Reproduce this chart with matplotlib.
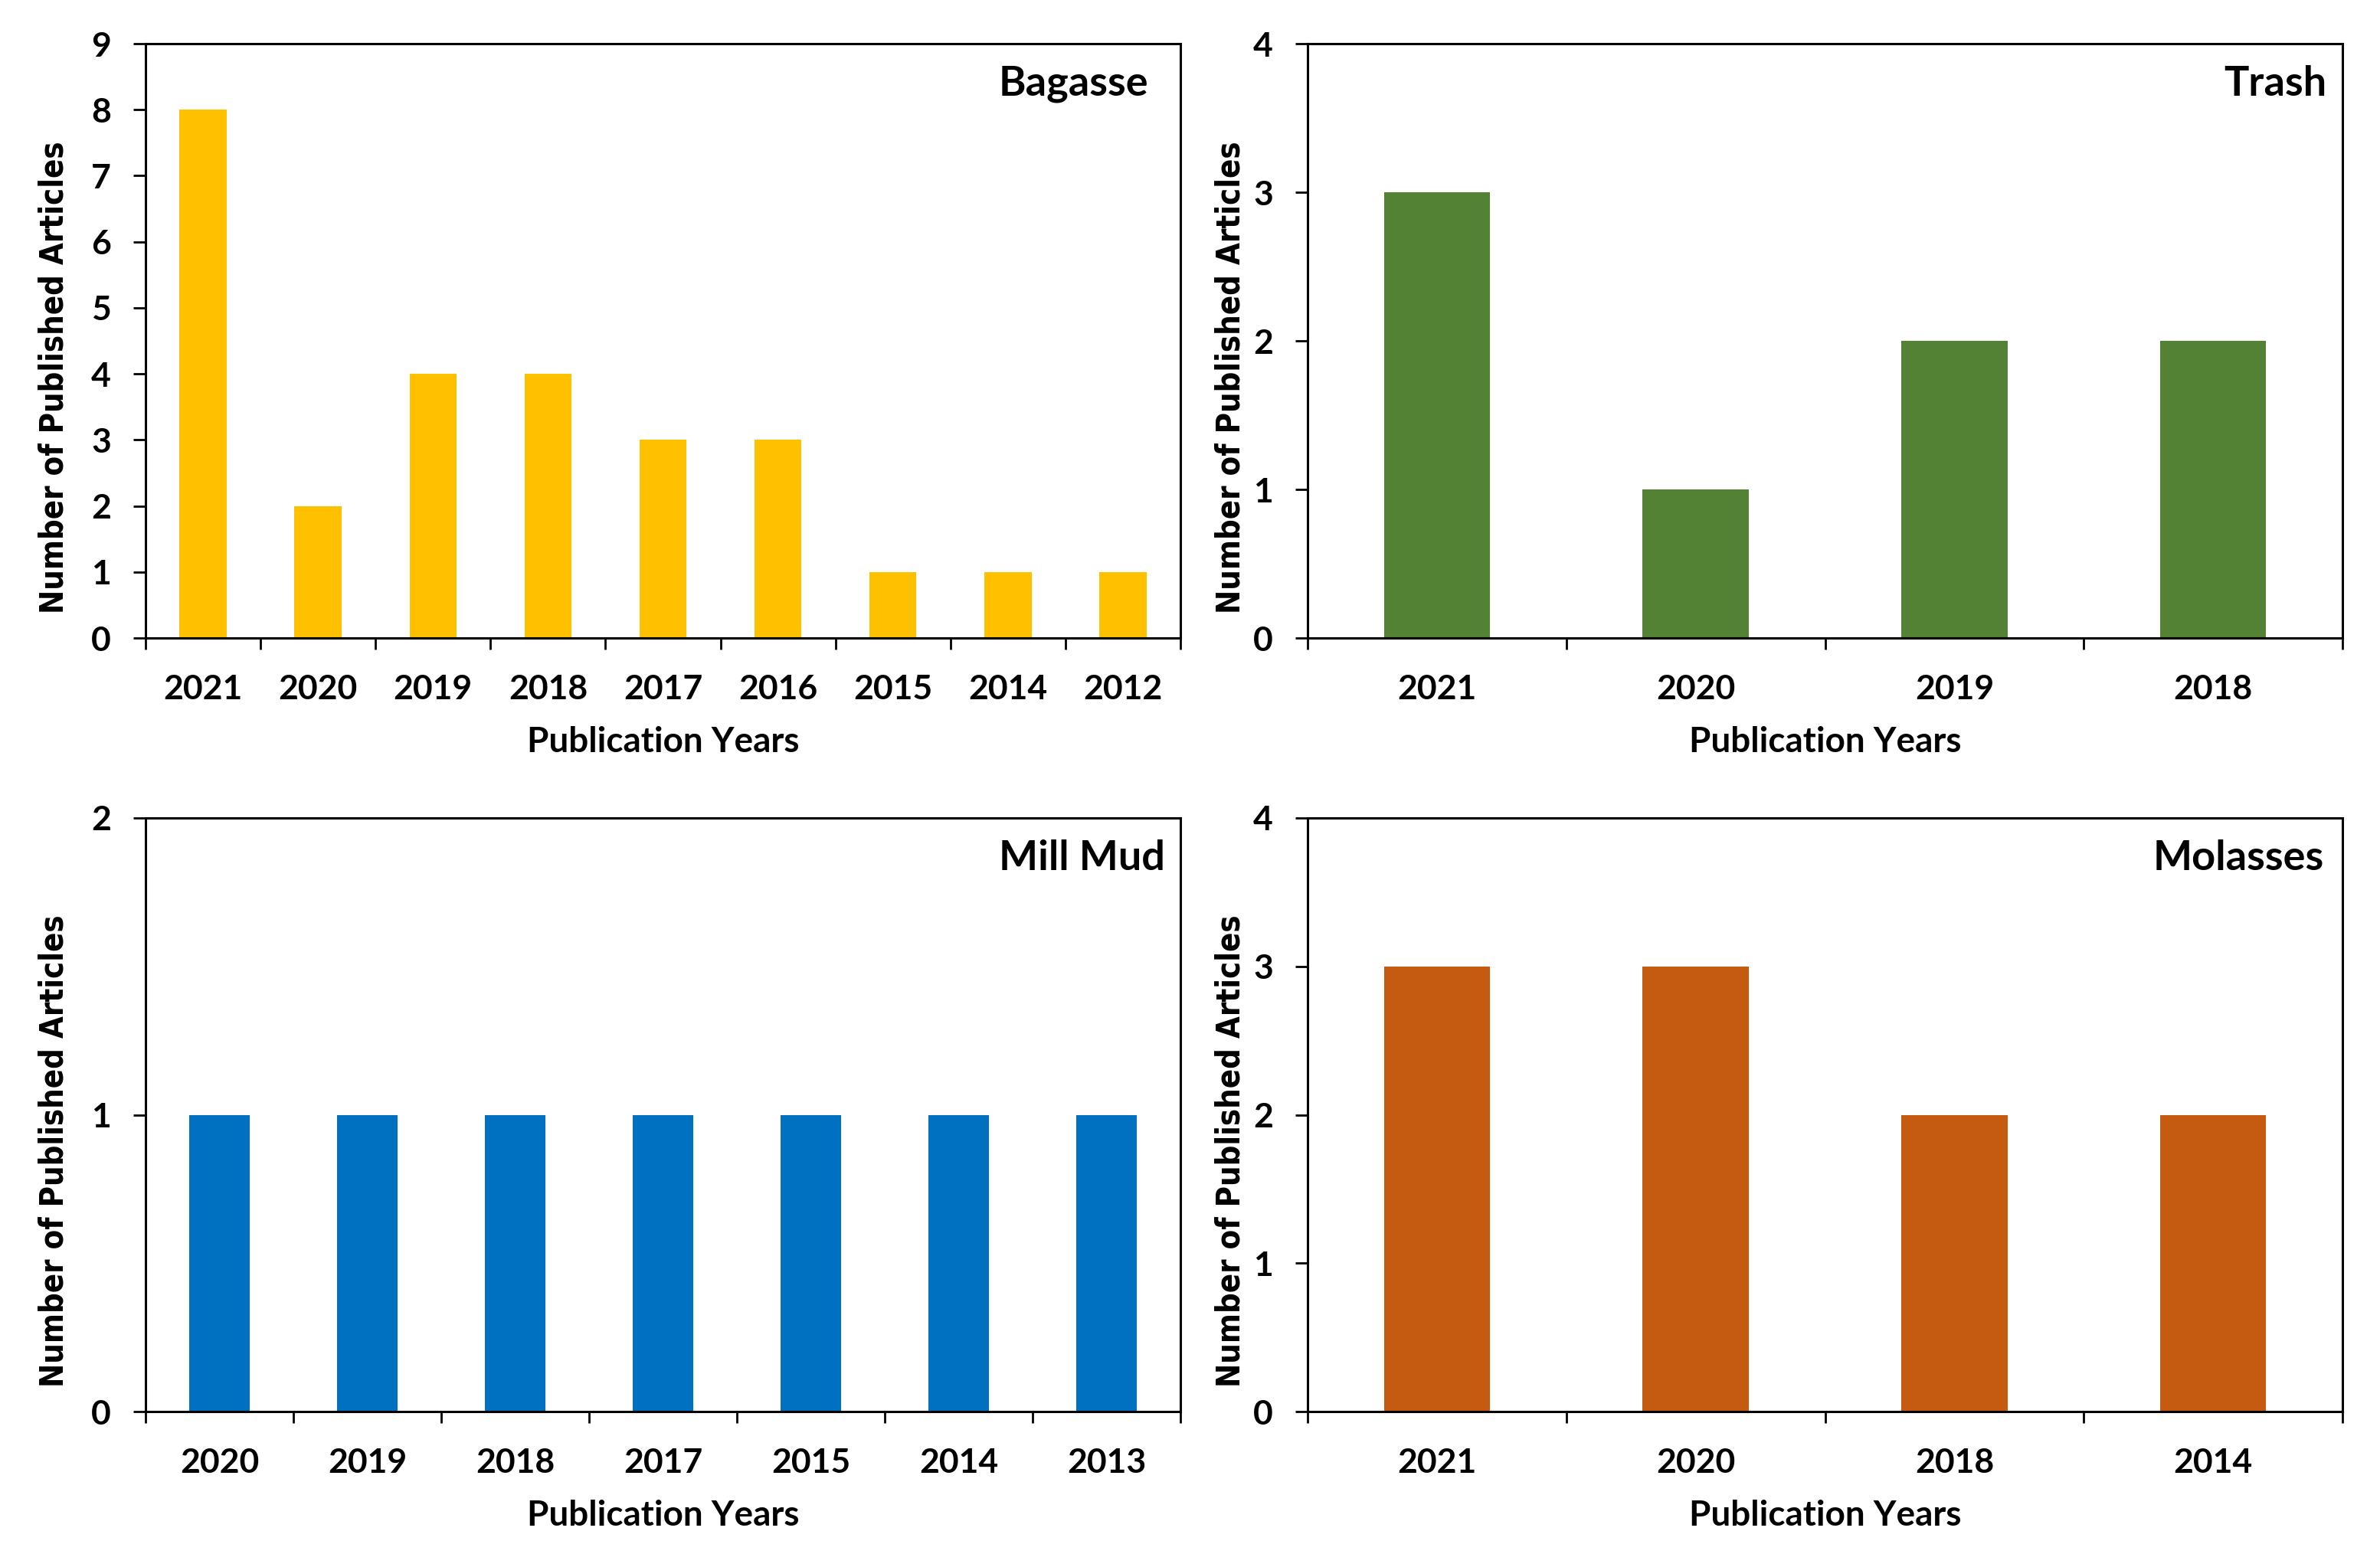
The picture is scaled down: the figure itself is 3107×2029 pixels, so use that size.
import matplotlib
matplotlib.use("Agg")
import matplotlib.pyplot as plt
from matplotlib import font_manager
import numpy as np

# ---- data ----
bagasse_years = ["2021", "2020", "2019", "2018", "2017", "2016", "2015", "2014", "2012"]
bagasse_counts = [8, 2, 4, 4, 3, 3, 1, 1, 1]

trash_years = ["2021", "2020", "2019", "2018"]
trash_counts = [3, 1, 2, 2]

millmud_years = ["2020", "2019", "2018", "2017", "2015", "2014", "2013"]
millmud_counts = [1, 1, 1, 1, 1, 1, 1]

molasses_years = ["2021", "2020", "2018", "2014"]
molasses_counts = [3, 3, 2, 2]

W, H = 3107, 2029
DPI = 100
fig = plt.figure(figsize=(W / DPI, H / DPI), dpi=DPI)
fig.patch.set_facecolor("white")

TICKFONT = ["Lato", "DejaVu Sans"]
names = {f.name for f in font_manager.fontManager.ttflist}
cond = "DejaVu Sans Condensed" in names or any(
    ("Condensed" in f.fname and "DejaVu" in f.fname) for f in font_manager.fontManager.ttflist)
YLFONT = ["DejaVu Sans"]
YLSTRETCH = "condensed" if cond else "normal"
YLSIZE = 30 if cond else 27.5

def px_axes(l, r, t, b):
    return [l / W, 1 - b / H, (r - l) / W, (b - t) / H]

panels = [
    dict(years=bagasse_years, counts=bagasse_counts, color="#FFC000", ymax=9,
         title="Bagasse", rect=px_axes(190, 1541, 57, 833), tx=0.969, ylx=-0.073),
    dict(years=trash_years, counts=trash_counts, color="#548235", ymax=4,
         title="Trash", rect=px_axes(1707, 3058, 57, 833), tx=0.985, ylx=-0.059),
    dict(years=millmud_years, counts=millmud_counts, color="#0070C0", ymax=2,
         title="Mill Mud", rect=px_axes(190, 1541, 1068, 1843), tx=0.985, ylx=-0.073),
    dict(years=molasses_years, counts=molasses_counts, color="#C55A11", ymax=4,
         title="Molasses", rect=px_axes(1707, 3058, 1068, 1843), tx=0.982, ylx=-0.059),
]

for p in panels:
    ax = fig.add_axes(p["rect"])
    n = len(p["years"])
    x = np.arange(n)
    ax.bar(x, p["counts"], width=0.41, color=p["color"], zorder=2)
    ax.set_xlim(-0.5, n - 0.5)
    ax.set_ylim(0, p["ymax"])
    ax.set_yticks(np.arange(0, p["ymax"] + 1, 1))
    ax.set_xticks(x)
    ax.set_xticklabels(p["years"])
    ax.set_xticks(np.arange(n + 1) - 0.5, minor=True)
    ax.tick_params(axis="x", which="major", length=0, pad=34)
    ax.tick_params(axis="x", which="minor", length=11, width=2, direction="out")
    ax.tick_params(axis="y", which="major", length=11.5, width=2, direction="out", pad=21)
    for lab in ax.get_xticklabels() + ax.get_yticklabels():
        lab.set_fontfamily(TICKFONT)
        lab.set_fontweight("bold")
        lab.set_fontsize(32)
    for s in ax.spines.values():
        s.set_linewidth(2.2)
        s.set_color("black")
    ax.set_xlabel("Publication Years", fontfamily=TICKFONT, fontweight="bold",
                  fontsize=33, labelpad=20)
    ax.set_ylabel("Number of Published Articles", fontfamily=YLFONT,
                  fontweight="bold", fontsize=YLSIZE, fontstretch=YLSTRETCH)
    ax.yaxis.set_label_coords(p["ylx"], 0.439)
    ax.text(p["tx"], 0.964, p["title"], transform=ax.transAxes, ha="right",
            va="top", fontfamily=TICKFONT, fontweight="bold", fontsize=39)

fig.savefig("out.png", dpi=DPI, facecolor="white")
